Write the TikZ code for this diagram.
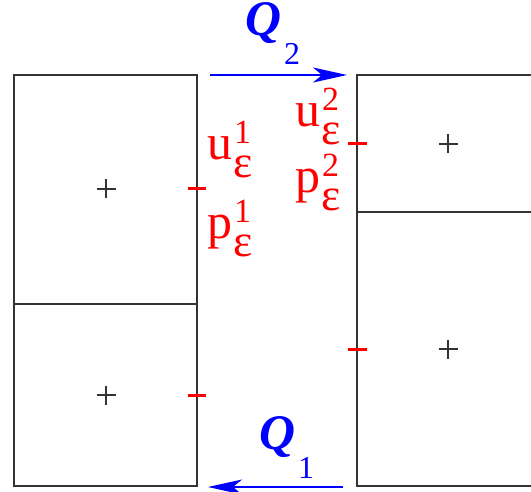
\documentclass[tikz,border=0pt]{standalone}
\usepackage{fontspec}
\setmainfont{Liberation Serif}
\usetikzlibrary{arrows.meta}

% u^1_eps style labels and Q_1 style labels
\newcommand{\fieldlab}[2]{#1\rlap{\kern2bp\raisebox{16bp}{\fontsize{34}{34}\selectfont #2}}\kern1bp\raisebox{-18bp}{\fontsize{46}{46}\selectfont ε}}
\newcommand{\fluxlab}[1]{\textbf{\textit{Q}}\kern3bp\raisebox{-29bp}{\fontsize{32}{32}\selectfont #1}}

\begin{document}
\begin{tikzpicture}[x=1bp, y=-1bp,
  cell/.style={draw=black!80, line width=1.2bp},
  wall/.style={draw=black!80, line width=1.7bp},
  cross/.style={draw=black!80, line width=1.1bp},
  tick/.style={draw=red, line width=3bp},
  lab/.style={red, font=\fontsize{50}{50}\selectfont, anchor=base west, inner sep=0pt},
  flux/.style={blue, font=\fontsize{50}{50}\selectfont, anchor=base west, inner sep=0pt},
  flow/.style={blue, line width=1.6bp, -{Stealth[length=34bp, width=15bp, inset=9bp]}}]
 \useasboundingbox (0,0) rectangle (531,492);
 % left column
 \draw[cell] (14,75) rectangle (197,486);
 \draw[wall] (14,304) -- (197,304);
 % right column (runs off the edge)
 \draw[cell] (531,75) -- (357,75) -- (357,486) -- (531,486);
 \draw[wall] (357,212) -- (531,212);
 % cell centres
 \coordinate (lt) at (106,189);
 \coordinate (lb) at (106,395);
 \coordinate (rt) at (448,144);
 \coordinate (rb) at (448,349);
 \foreach \c in {lt,lb,rt,rb}
  \draw[cross] (\c) +(-9.5,0) -- +(9.5,0) (\c) +(0,-9.5) -- +(0,9.5);
 % interface points
 \foreach \c in {lt,lb}
  \draw[tick] (\c -| 188,0) -- (\c -| 206,0);
 \foreach \c in {rt,rb}
  \draw[tick] (\c -| 348,0) -- (\c -| 367,0);
 % unknowns
 \node[lab] (u1) at (207,160) {\fieldlab{u}{1}};
 \node[lab] (p1) at (207,238) {\fieldlab{p}{1}};
 \node[lab] (u2) at (295,127) {\fieldlab{u}{2}};
 \node[lab] (p2) at (295,193) {\fieldlab{p}{2}};
 % fluxes
 \coordinate (q2a) at (210,75);
 \coordinate (q2b) at (347,75);
 \coordinate (q1a) at (343,487);
 \coordinate (q1b) at (208,487);
 \draw[flow] (q2a) -- (q2b);
 \draw[flow] (q1a) -- (q1b);
 \node[flux] (Q2) at (245,36) {\fluxlab{2}};
 \node[flux] (Q1) at (259,449) {\fluxlab{1}};
\end{tikzpicture}
\end{document}
